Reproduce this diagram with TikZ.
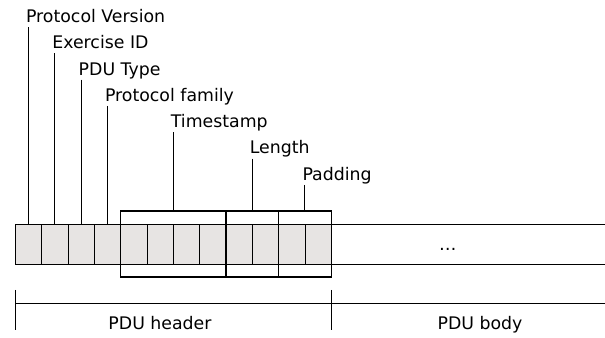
\documentclass[tikz,border=0pt]{standalone}
\usepackage{fontspec}
\setmainfont{DejaVu Sans}
\usetikzlibrary{fit}
\definecolor{cellgray}{RGB}{231,228,227}

\begin{document}
\begin{tikzpicture}[x=0.75pt,y=-0.75pt,
    font=\fontsize{13}{15}\selectfont,
    cell/.style={draw,fill=cellgray,line width=0.6pt,minimum width=19.75pt,
      minimum height=30pt,inner sep=0pt,outer sep=0pt},
    grp/.style={draw,line width=1.1pt,inner xsep=0pt,inner ysep=9.6pt},
    lbl/.style={anchor=base west,inner sep=0pt},
    lead/.style={line width=0.8pt}]
  \useasboundingbox (0,0) rectangle (605,337);

  % header octets
  \foreach \i in {1,...,12}
    \node[cell] (c\i) at (15.3+26.33*\i-13.17,244) {};

  % rest of the packet
  \coordinate (stripT) at (605,224);
  \coordinate (stripB) at (605,264);
  \draw[line width=0.6pt] (c12.north east) -- (stripT);
  \draw[line width=0.6pt] (c12.south east) -- (stripB);
  \node[anchor=base] (dots) at (447.7,250) {…};

  % multi-octet fields
  \node[grp,fit=(c5)(c8)] (ts) {};
  \node[grp,fit=(c9)(c10)] (len) {};
  \node[grp,fit=(c11)(c12)] (pad) {};

  % field names and leaders
  \coordinate (pvtop) at (c1.north |- 0,27);
  \coordinate (eidtop) at (c2.north |- 0,53.3);
  \coordinate (typtop) at (c3.north |- 0,79.6);
  \coordinate (famtop) at (c4.north |- 0,105.9);
  \coordinate (tstop) at (ts.north |- 0,132.2);
  \coordinate (lentop) at (len.north |- 0,158.5);
  \coordinate (padtop) at (pad.north |- 0,184.8);

  \node[lbl] (pv) at ([xshift=-2pt,yshift=3.4pt]pvtop) {Protocol Version};
  \node[lbl] (eid) at ([xshift=-2pt,yshift=3.4pt]eidtop) {Exercise ID};
  \node[lbl] (typ) at ([xshift=-2pt,yshift=3.4pt]typtop) {PDU Type};
  \node[lbl] (fam) at ([xshift=-2pt,yshift=3.4pt]famtop) {Protocol family};
  \node[lbl] (tsl) at ([xshift=-2pt,yshift=3.4pt]tstop) {Timestamp};
  \node[lbl] (lenl) at ([xshift=-2pt,yshift=3.4pt]lentop) {Length};
  \node[lbl] (padl) at ([xshift=-2pt,yshift=3.4pt]padtop) {Padding};

  \draw[lead] (pvtop) -- (c1.north);
  \draw[lead] (eidtop) -- (c2.north);
  \draw[lead] (typtop) -- (c3.north);
  \draw[lead] (famtop) -- (c4.north);
  \draw[lead] (tstop) -- (ts.north);
  \draw[lead] (lentop) -- (len.north);
  \draw[lead] (padtop) -- (pad.north);

  % header / body split
  \coordinate (hl) at (c1.west |- 0,303.3);
  \coordinate (hm) at (c12.east |- 0,303.3);
  \coordinate (hr) at (605,303.3);
  \draw[lead] (hl) -- (hr);
  \draw[lead] ([yshift=10pt]hl) -- ([yshift=-20pt]hl);
  \draw[lead] ([yshift=10pt]hm) -- ([yshift=-20pt]hm);
  \node[anchor=base] (hdr) at (160,329) {PDU header};
  \node[anchor=base] (body) at (480,329) {PDU body};
\end{tikzpicture}
\end{document}
